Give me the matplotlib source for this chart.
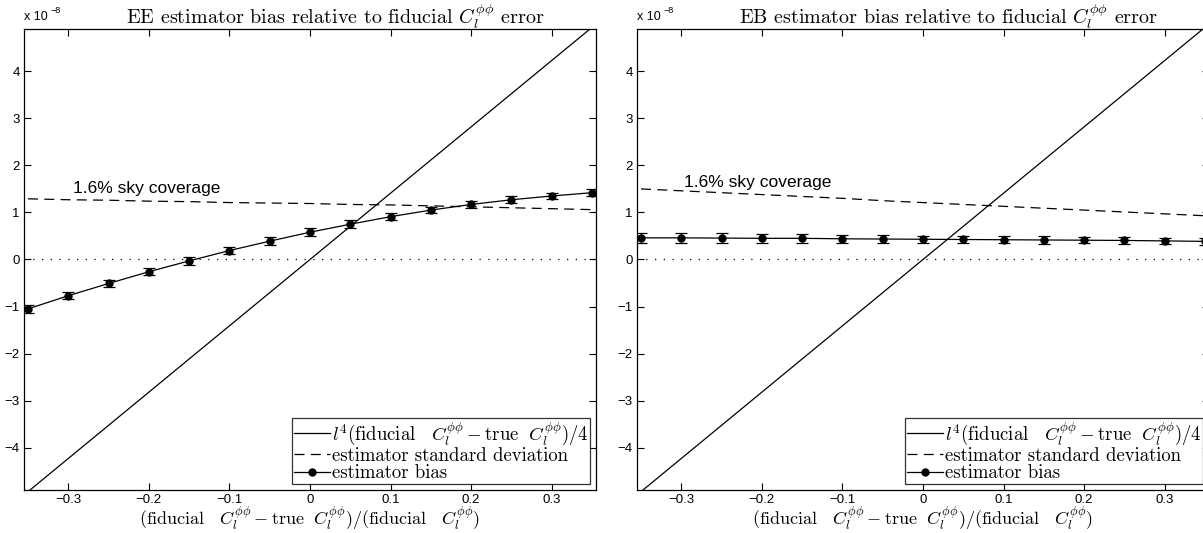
import numpy as np
import matplotlib
matplotlib.use("Agg")
import matplotlib.pyplot as plt
from matplotlib.lines import Line2D

plt.rcParams['mathtext.fontset'] = 'cm'
plt.rcParams['font.family'] = ['Liberation Sans', 'DejaVu Sans']
plt.rcParams['axes.unicode_minus'] = True

# datos (unidades de 1e-8)
x_frac = [-0.35, -0.30, -0.25, -0.20, -0.15, -0.10, -0.05, 0.0,
          0.05, 0.10, 0.15, 0.20, 0.25, 0.30, 0.35]

sesgo_ee = [-1.05, -0.77, -0.51, -0.26, -0.03, 0.19, 0.39, 0.58,
            0.75, 0.91, 1.05, 1.17, 1.27, 1.35, 1.42]
err_ee = [0.09, 0.08, 0.08, 0.08, 0.08, 0.08, 0.08, 0.08,
          0.08, 0.08, 0.07, 0.07, 0.07, 0.07, 0.07]
desv_ee = [1.29, 1.27, 1.26, 1.24, 1.23, 1.21, 1.20, 1.19,
           1.17, 1.16, 1.14, 1.12, 1.10, 1.08, 1.06]

sesgo_eb = [0.46, 0.46, 0.455, 0.45, 0.45, 0.44, 0.435, 0.43,
            0.425, 0.42, 0.415, 0.41, 0.405, 0.395, 0.385]
err_eb = [0.11, 0.10, 0.10, 0.10, 0.09, 0.09, 0.09, 0.08,
          0.08, 0.08, 0.08, 0.07, 0.07, 0.07, 0.07]
desv_eb = [1.50, 1.46, 1.42, 1.38, 1.34, 1.30, 1.25, 1.21,
           1.17, 1.13, 1.09, 1.05, 1.01, 0.97, 0.93]

pendiente = 14.1  # l^4 (fid - true)/4 en unidades de 1e-8 por unidad de x

titulos = [r"EE estimator bias relative to fiducial $C_l^{\phi\phi}$ error",
           r"EB estimator bias relative to fiducial $C_l^{\phi\phi}$ error"]
texto_cielo = "1.6% sky coverage"
pos_texto = [(-0.294, 1.50), (-0.297, 1.63)]

xlabel = (r"$(\mathrm{fiducial}\quad C_l^{\phi\phi} - \mathrm{true}\ \ C_l^{\phi\phi})"
          r"/(\mathrm{fiducial}\quad C_l^{\phi\phi})$")
etiquetas = [r"$l^4$(fiducial$\quad C_l^{\phi\phi} -$true$\ \ C_l^{\phi\phi}$)/4",
             "estimator standard deviation",
             "estimator bias"]

fig = plt.figure(figsize=(12.03, 5.33), dpi=100)
posiciones = [[0.01995, 0.0807, 0.4755, 0.8649],
              [0.5295, 0.0807, 0.4755, 0.8649]]

datos = [(sesgo_ee, err_ee, desv_ee), (sesgo_eb, err_eb, desv_eb)]

for i in range(2):
    ax = fig.add_axes(posiciones[i])
    sesgo, err, desv = datos[i]
    xs = np.array([-0.355, 0.355])
    l1, = ax.plot(xs, pendiente * xs, color='black', lw=0.9)
    l2, = ax.plot(x_frac, desv, color='black', ls=(0, (8, 5)), lw=0.9)
    ax.axhline(0, color='black', ls=(0, (1, 6)), lw=0.9)
    ax.errorbar(x_frac, sesgo, yerr=err, color='black', marker='o',
                ms=5, lw=0.9, elinewidth=0.9, capsize=4.5, capthick=0.9)
    l3 = Line2D([], [], color='black', marker='o', ms=5, lw=0.9)
    ax.set_xlim(-0.355, 0.355)
    ax.set_ylim(-4.9, 4.9)
    ax.set_xticks([-0.3, -0.2, -0.1, 0, 0.1, 0.2, 0.3])
    ax.set_xticklabels(["\u22120.3", "\u22120.2", "\u22120.1", "0", "0.1", "0.2", "0.3"])
    ax.set_yticks([-4, -3, -2, -1, 0, 1, 2, 3, 4])
    ax.set_yticklabels(["\u22124", "\u22123", "\u22122", "\u22121", "0", "1", "2", "3", "4"])
    ax.tick_params(direction='in', top=True, right=True, length=5, width=0.8,
                   labelsize=9.5)
    ax.tick_params(axis='x', pad=3)
    ax.tick_params(axis='y', pad=3)
    for sp in ax.spines.values():
        sp.set_linewidth(0.9)
    ax.set_xlabel(xlabel, fontsize=13, labelpad=-1)
    ax.set_title(titulos[i], fontsize=14.5, family='cmr10', pad=4, x=0.544)
    ax.text(pos_texto[i][0], pos_texto[i][1], texto_cielo, fontsize=12.5,
            va='center', ha='left')
    ax.text(0.0, 1.012, "x 10", transform=ax.transAxes, fontsize=9,
            ha='left', va='bottom')
    ax.text(0.046, 1.03, "\u22128", transform=ax.transAxes, fontsize=6.5,
            ha='left', va='bottom')
    leg = ax.legend([l1, l2, l3], etiquetas, loc='lower right',
                    prop={'family': 'cmr10', 'size': 13.5},
                    frameon=True, fancybox=False, edgecolor='black',
                    handlelength=1.9, handletextpad=0.1, labelspacing=0.0,
                    borderpad=0.1, borderaxespad=0.3)
    leg.get_frame().set_linewidth(0.9)

plt.savefig("out.png", dpi=100)
